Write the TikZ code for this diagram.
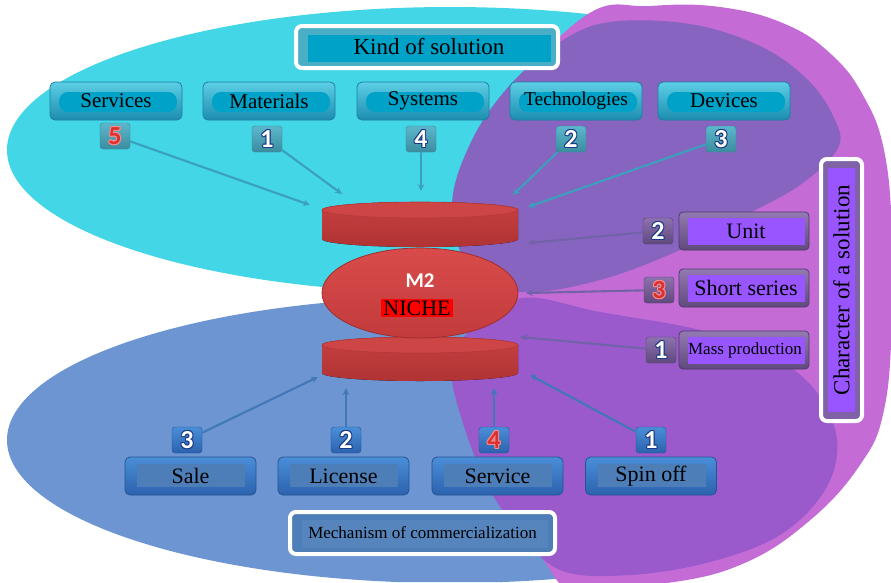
\documentclass[tikz,border=0pt]{standalone}
\usepackage{fontspec}
\setmainfont{Liberation Serif}
\newfontfamily\numfont{Carlito}
\usetikzlibrary{arrows.meta,calc,shapes.geometric}
\definecolor{magbg}{HTML}{C46BD6}
\definecolor{cyanbg}{HTML}{42D6E7}
\definecolor{bluebg}{HTML}{6C95D1}
\definecolor{upur}{HTML}{8664C0}
\definecolor{lpur}{HTML}{9A5ACC}
\definecolor{tealband}{HTML}{4AAFC6}
\definecolor{tealin}{HTML}{00A2C8}
\definecolor{tealtop}{HTML}{5CCFE6}
\definecolor{tealbot}{HTML}{1C8DB0}
\definecolor{tealdraw}{HTML}{1E7FA0}
\definecolor{bluetop}{HTML}{4A8ED8}
\definecolor{bluebot}{HTML}{2C62AE}
\definecolor{bluedraw}{HTML}{245496}
\definecolor{mechband}{HTML}{4E7EB8}
\definecolor{mechin}{HTML}{5684BC}
\definecolor{charband}{HTML}{8062A6}
\definecolor{brightpur}{HTML}{9955FF}
\definecolor{numline}{HTML}{1B3A85}
\definecolor{redfill}{HTML}{D83232}
\definecolor{redline}{HTML}{FF8A8A}
\definecolor{arrteal}{HTML}{3AA0BE}
\definecolor{arrpur}{HTML}{7262A8}
\definecolor{arrblue}{HTML}{4178B8}
\definecolor{cyltopc}{HTML}{CE4545}
\definecolor{cylbodyt}{HTML}{C84040}
\definecolor{cylbodyb}{HTML}{B03333}
\definecolor{cyledge}{HTML}{B23838}
\definecolor{elltop}{HTML}{D94B4B}
\definecolor{ellbot}{HTML}{C23B3B}
\definecolor{elledge}{HTML}{A02E2E}
\newcommand\olnum[3]{%
\makebox[0pt][l]{\color{#3}\kern-1pt#1}%
\makebox[0pt][l]{\color{#3}\kern1pt#1}%
\makebox[0pt][l]{\color{#3}\raisebox{1pt}{#1}}%
\makebox[0pt][l]{\color{#3}\raisebox{-1pt}{#1}}%
\makebox[0pt][l]{\color{#3}\kern-0.7pt\raisebox{0.7pt}{#1}}%
\makebox[0pt][l]{\color{#3}\kern0.7pt\raisebox{0.7pt}{#1}}%
\makebox[0pt][l]{\color{#3}\kern-0.7pt\raisebox{-0.7pt}{#1}}%
\makebox[0pt][l]{\color{#3}\kern0.7pt\raisebox{-0.7pt}{#1}}%
{\color{#2}#1}}
\tikzset{
  infill/.style n args={6}{path picture={\fill[#1,rounded corners=#6]
      ($(path picture bounding box.north west)+(#2,#3)$) rectangle
      ($(path picture bounding box.south east)+(-#4,-#5)$);}},
  topbox/.style={rounded corners=5pt, draw=tealdraw, line width=0.8pt,
      top color=tealtop, bottom color=tealbot,
      minimum width=132pt, minimum height=38pt, inner sep=0pt,
      font=\fontsize{21}{22}\selectfont, infill={tealin}{9}{10}{5}{8}{9pt}},
  botbox/.style={rounded corners=5pt, draw=bluedraw, line width=0.8pt,
      top color=bluetop, bottom color=bluebot,
      minimum width=131pt, minimum height=38pt, inner sep=0pt,
      font=\fontsize{22}{22}\selectfont, infill={mechband}{12}{7}{11}{8}{0pt}},
  rightbox/.style={rounded corners=4pt, draw=black!40!charband, line width=0.8pt,
      top color=charband!85!white, bottom color=black!25!charband,
      minimum width=130pt, minimum height=38pt, inner sep=0pt,
      font=\fontsize{22}{22}\selectfont, infill={brightpur}{9}{6}{4}{5}{0pt}},
  badgebase/.style={rounded corners=3pt, minimum width=30pt, minimum height=26pt,
      inner sep=0pt, font=\numfont\bfseries\fontsize{26}{26}\selectfont},
  tbadge/.style={badgebase, top color=tealband!90!white, bottom color=black!20!tealband, draw=black!25!tealband},
  rbadge/.style={badgebase, top color=charband!90!white, bottom color=black!25!charband, draw=black!35!charband},
  bbadge/.style={badgebase, top color=bluetop, bottom color=bluebot, draw=bluedraw},
  arrowbase/.style={line width=2.1pt, -{Stealth[length=7pt,width=6.5pt]}},
  tarr/.style={arrowbase, draw=arrteal},
  rarr/.style={arrowbase, draw=arrpur},
  barr/.style={arrowbase, draw=arrblue},
  cylbody/.style={top color=cylbodyt, bottom color=cylbodyb},
  cyltop/.style={fill=cyltopc, draw=cyledge, line width=0.6pt},
}
\begin{document}
\begin{tikzpicture}[x=1pt,y=-1pt]
\useasboundingbox (0,0) rectangle (891,582);
% backgrounds
\begin{scope}
\clip (0,0) -- (835,0) -- (835,400) -- (780,582) -- (0,582) -- cycle;
\fill[cyanbg] (450,150) ellipse[x radius=443, y radius=143];
\fill[bluebg] (450,440) ellipse[x radius=443, y radius=143];
\end{scope}
\fill[magbg] plot[smooth cycle, tension=0.7] coordinates {(585,16) (650,6) (720,7) (785,24) (832,55) (864,97) (884,150) (892,230) (892,320) (884,410) (860,465) (808,522) (740,565) (660,584) (580,588) (545,562) (480,430) (468,300) (472,200) (505,105)};
\fill[upur] plot[smooth cycle, tension=0.6] coordinates {(452,205) (472,140) (510,85) (560,42) (610,22) (690,24) (760,46) (808,80) (834,118) (838,148) (800,185) (740,218) (680,250) (600,280) (522,292) (470,270)};
\fill[lpur] plot[smooth cycle, tension=0.6] coordinates {(470,330) (522,298) (600,312) (700,330) (770,355) (815,390) (837,440) (825,490) (780,535) (710,562) (630,575) (560,570) (515,527) (485,480) (462,420) (452,370)};

% title boxes
\node[draw=white, line width=4pt, fill=tealband, rounded corners=6pt,
      minimum width=262pt, minimum height=42pt, inner sep=0pt,
      infill={tealin}{12}{9}{7}{6}{0pt}, font=\fontsize{23}{23}\selectfont]
      (kind) at (427,47) {\hspace*{4pt}Kind of solution};
\node[draw=white, line width=4pt, fill=mechband, rounded corners=6pt,
      minimum width=265pt, minimum height=42pt, inner sep=0pt,
      infill={mechin}{12}{8}{7}{6}{0pt}, font=\fontsize{17}{17}\selectfont]
      (mech) at (422.5,533) {Mechanism of commercialization};
\node[draw=white, line width=4pt, fill=charband, rounded corners=6pt,
      minimum width=41pt, minimum height=262pt, inner sep=0pt,
      infill={brightpur}{7}{9}{7}{9}{0pt}, font=\fontsize{23}{23}\selectfont]
      (char) at (841.5,290) {\rotatebox{90}{Character of a solution}};

% top category boxes
\node[topbox] (services) at (116,101) {Services};
\node[topbox] (materials) at (269,101) {Materials};
\node[topbox] (systems) at (423,101) {Systems};
\node[topbox, font=\fontsize{19.5}{20}\selectfont] (technologies) at (576,101) {Technologies};
\node[topbox] (devices) at (724,101) {Devices};

% right boxes
\node[rightbox] (unit) at (744,231) {\hspace*{4pt}Unit};
\node[rightbox] (short) at (744,288) {\hspace*{4pt}Short series};
\node[rightbox, font=\fontsize{17}{17}\selectfont] (mass) at (744,350) {\hspace*{2pt}Mass production};

% bottom boxes
\node[botbox] (sale) at (190.5,476) {Sale};
\node[botbox] (license) at (343.5,476) {License};
\node[botbox] (service) at (497.5,476) {Service};
\node[botbox] (spinoff) at (651,476) {Spin off};

% red cylinders and ellipse
\fill[cylbody] (322,210) -- (322,239) arc[start angle=180,end angle=0,x radius=98,y radius=8] -- (518,210) arc[start angle=0,end angle=-180,x radius=98,y radius=8] -- cycle;
\draw[cyltop] (420,210) ellipse[x radius=98,y radius=8];
\fill[cylbody] (322,345) -- (322,373) arc[start angle=180,end angle=0,x radius=98,y radius=8] -- (518,345) arc[start angle=0,end angle=-180,x radius=98,y radius=8] -- cycle;
\draw[cyltop] (420,345) ellipse[x radius=98,y radius=8];
\node[ellipse, minimum width=196pt, minimum height=90pt, inner sep=0pt,
      top color=elltop, bottom color=ellbot,
      draw=elledge, line width=0.8pt] (niche) at (420,293) {};
\node[text=white, font=\numfont\bfseries\fontsize{21}{21}\selectfont] (m2) at (420,281) {M2};
\node[fill=red, inner xsep=2pt, inner ysep=1.5pt, font=\fontsize{22}{22}\selectfont] (nichetxt) at (417,308) {NICHE};

% arrow targets
\coordinate (a5) at (310,205);
\coordinate (a1) at (342,194);
\coordinate (a4) at (421,191);
\coordinate (a2) at (513,195);
\coordinate (a3) at (528,207);
\coordinate (ru) at (528,243);
\coordinate (rs) at (526,293);
\coordinate (rm) at (520,337);
\coordinate (bs) at (318,377);
\coordinate (bl) at (346,388);
\coordinate (bv) at (494,388);
\coordinate (bo) at (530,375);

% badges
\node[tbadge] (n5) at (115,136) {\olnum{5}{redfill}{redline}};
\node[tbadge] (n1) at (267,139) {\olnum{1}{white}{numline}};
\node[tbadge] (n4) at (421,139) {\olnum{4}{white}{numline}};
\node[tbadge] (n2) at (571,139) {\olnum{2}{white}{numline}};
\node[tbadge] (n3) at (721,139) {\olnum{3}{white}{numline}};
\node[rbadge] (u2) at (658,231) {\olnum{2}{white}{numline}};
\node[rbadge] (s3) at (659,290) {\olnum{3}{redfill}{redline}};
\node[rbadge] (m1) at (661,350) {\olnum{1}{white}{numline}};
\node[bbadge] (c3) at (187,440) {\olnum{3}{white}{numline}};
\node[bbadge] (c2) at (346,440) {\olnum{2}{white}{numline}};
\node[bbadge] (c4) at (494,440) {\olnum{4}{redfill}{redline}};
\node[bbadge] (c1) at (651,440) {\olnum{1}{white}{numline}};

% connectors
\draw[tarr] (n5) -- (a5);
\draw[tarr] (n1) -- (a1);
\draw[tarr] (n4) -- (a4);
\draw[tarr] (n2) -- (a2);
\draw[tarr] (n3) -- (a3);
\draw[rarr] (u2) -- (ru);
\draw[rarr] (s3) -- (rs);
\draw[rarr] (m1) -- (rm);
\draw[barr] (c3) -- (bs);
\draw[barr] (c2) -- (bl);
\draw[barr] (c4) -- (bv);
\draw[barr] (c1) -- (bo);
\end{tikzpicture}
\end{document}
